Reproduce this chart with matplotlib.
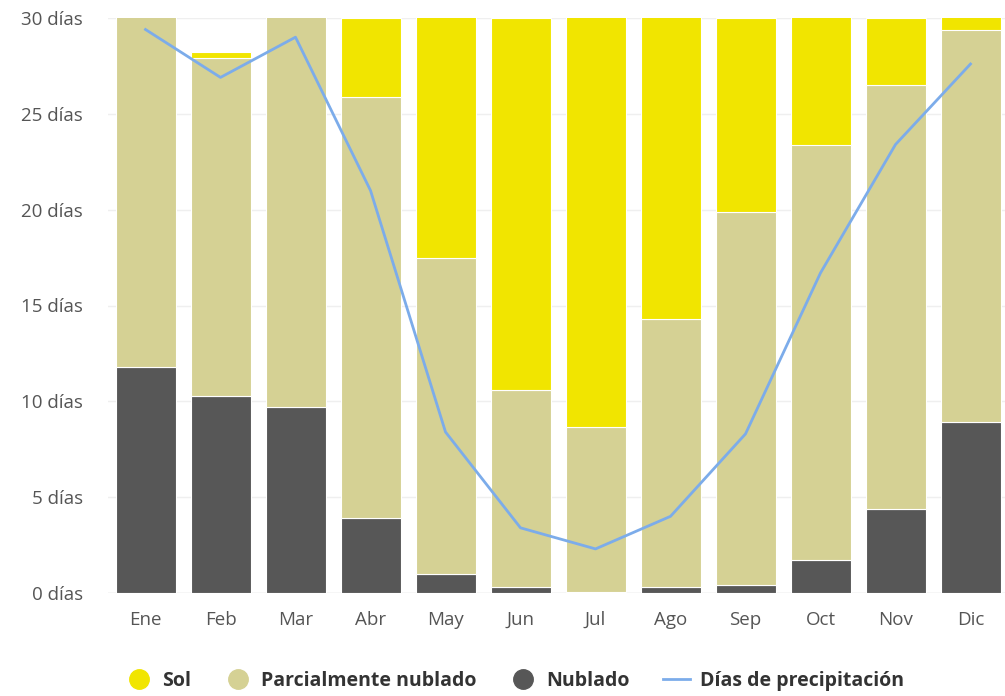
import matplotlib
matplotlib.use("Agg")
import matplotlib.pyplot as plt
from matplotlib.lines import Line2D
import numpy as np

plt.rcParams["font.family"] = ["Open Sans", "DejaVu Sans"]

months = ["Ene", "Feb", "Mar", "Abr", "May", "Jun", "Jul", "Ago", "Sep", "Oct", "Nov", "Dic"]
nublado = [11.8, 10.3, 9.7, 3.9, 1.0, 0.3, 0.05, 0.3, 0.4, 1.7, 4.4, 8.9]
parcial = [19.2, 17.6, 21.0, 22.0, 16.5, 10.3, 8.6, 14.0, 19.5, 21.7, 22.1, 20.5]
sol = [0.0, 0.35, 0.3, 4.1, 13.5, 19.4, 22.35, 16.7, 10.1, 7.6, 3.5, 1.6]
precipitacion = [29.4, 26.9, 29.0, 21.0, 8.4, 3.4, 2.3, 4.0, 8.3, 16.7, 23.4, 27.6]
y_ticks = [0, 5, 10, 15, 20, 25, 30]

c_sol = "#f1e500"
c_parcial = "#d5d194"
c_nublado = "#575757"
c_line = "#7cacea"
c_text = "#555555"

fig = plt.figure(figsize=(10.05, 6.96), dpi=100)
ax = fig.add_axes([108 / 1005, 103 / 696, (1008 - 108) / 1005, (593 - 18) / 696])

x = np.arange(len(months))
nub = np.array(nublado)
par = np.array(parcial)
sl = np.array(sol)
w = 0.8
kw = dict(width=w, edgecolor="white", linewidth=0.8, zorder=2)
ax.bar(x, nub, color=c_nublado, **kw)
ax.bar(x, par, bottom=nub, color=c_parcial, **kw)
ax.bar(x, sl, bottom=nub + par, color=c_sol, **kw)
ax.plot(x, precipitacion, color=c_line, linewidth=2, zorder=3, clip_on=False)

ax.set_xlim(-0.5, 11.5)
ax.set_ylim(0, 30)
ax.set_yticks(y_ticks)
ax.set_yticklabels([f"{v} días" for v in y_ticks])
ax.set_xticks(x)
ax.set_xticklabels(months)
ax.tick_params(axis="both", length=0, labelsize=13.5, colors=c_text)
ax.tick_params(axis="y", pad=18)
ax.tick_params(axis="x", pad=13)
ax.grid(axis="y", color="#efefef", linewidth=1, zorder=0)
ax.set_axisbelow(True)
for s in ax.spines.values():
    s.set_visible(False)
ax.axhline(0, color="#e6e6e6", linewidth=1, zorder=1)

handles = [
    Line2D([0], [0], marker="o", linestyle="none", markersize=14, markerfacecolor=c_sol, markeredgecolor=c_sol),
    Line2D([0], [0], marker="o", linestyle="none", markersize=14, markerfacecolor=c_parcial, markeredgecolor=c_parcial),
    Line2D([0], [0], marker="o", linestyle="none", markersize=14, markerfacecolor=c_nublado, markeredgecolor=c_nublado),
    Line2D([0], [0], color=c_line, linewidth=2),
]
labels = ["Sol", "Parcialmente nublado", "Nublado", "Días de precipitación"]
fig.legend(handles, labels, loc="center", bbox_to_anchor=(0.512, 0.022), ncol=4, frameon=False,
           prop={"size": 14, "weight": "bold"}, labelcolor="#333333", handlelength=1.4,
           handletextpad=0.5, columnspacing=1.7)

fig.savefig("out.png", dpi=100)
